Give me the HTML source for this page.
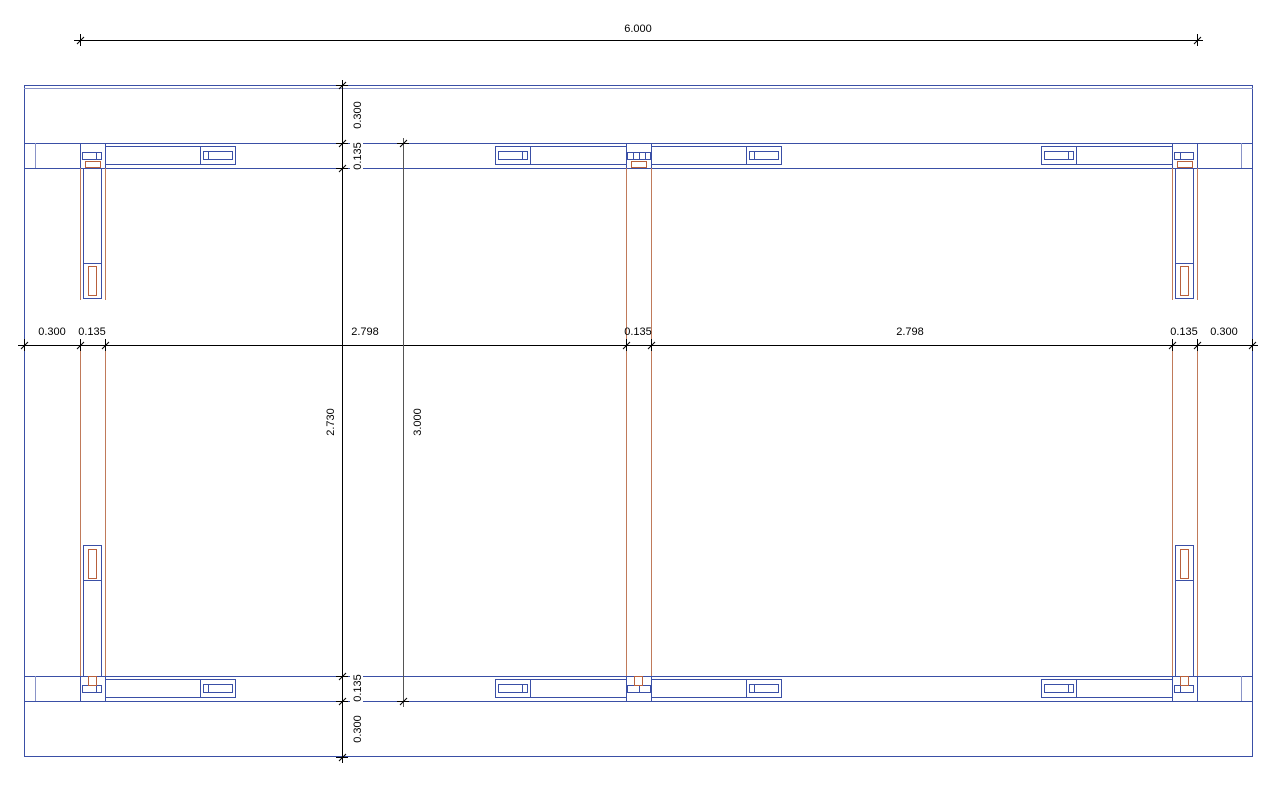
<!DOCTYPE html>
<html><head><meta charset="utf-8"><style>
html,body{margin:0;padding:0;background:#fff;}
svg{display:block;}
text{font-family:"Liberation Sans",sans-serif;font-size:11px;fill:#000;}
</style></head><body>
<svg width="1283" height="792" viewBox="0 0 1283 792" xmlns="http://www.w3.org/2000/svg">
<g fill="none" stroke="#3a4fa6" stroke-width="1">
<rect x="24.5" y="85.5" width="1228" height="671"/>
<line x1="24" y1="88.5" x2="1253" y2="88.5" stroke="#8a94c8"/>
<line x1="24" y1="143.5" x2="1253" y2="143.5"/>
<line x1="24" y1="168.5" x2="1253" y2="168.5"/>
<line x1="24" y1="676.5" x2="1253" y2="676.5"/>
<line x1="24" y1="701.5" x2="1253" y2="701.5"/>
<line x1="35.5" y1="143" x2="35.5" y2="168" stroke="#8a94c8"/>
<line x1="1241.5" y1="143" x2="1241.5" y2="168" stroke="#8a94c8"/>
<line x1="35.5" y1="676" x2="35.5" y2="701" stroke="#8a94c8"/>
<line x1="1241.5" y1="676" x2="1241.5" y2="701" stroke="#8a94c8"/>
<rect x="80.5" y="143.5" width="25" height="25"/>
<rect x="626.5" y="143.5" width="25" height="25"/>
<rect x="1172.5" y="143.5" width="25" height="25"/>
<rect x="80.5" y="676.5" width="25" height="25"/>
<rect x="626.5" y="676.5" width="25" height="25"/>
<rect x="1172.5" y="676.5" width="25" height="25"/>
<rect x="82.5" y="152.5" width="19" height="7"/><line x1="96.5" y1="152" x2="96.5" y2="160"/>
<rect x="627.5" y="152.5" width="23" height="7"/><line x1="633.5" y1="152" x2="633.5" y2="160"/><line x1="639.5" y1="152" x2="639.5" y2="160"/><line x1="645.5" y1="152" x2="645.5" y2="160"/>
<rect x="1174.5" y="152.5" width="19" height="7"/><line x1="1180.5" y1="152" x2="1180.5" y2="160"/>
<rect x="82.5" y="685.5" width="19" height="7"/><line x1="96.5" y1="685" x2="96.5" y2="693"/>
<rect x="627.5" y="685.5" width="23" height="7"/><line x1="639.5" y1="685" x2="639.5" y2="693"/>
<rect x="1174.5" y="685.5" width="19" height="7"/><line x1="1180.5" y1="685" x2="1180.5" y2="693"/>
<rect x="105.5" y="146.5" width="130" height="18"/><line x1="200.5" y1="146" x2="200.5" y2="165"/><rect x="203.5" y="151.5" width="29" height="8"/><line x1="208.5" y1="151" x2="208.5" y2="160"/>
<rect x="495.5" y="146.5" width="131" height="18"/><line x1="530.5" y1="146" x2="530.5" y2="165"/><rect x="498.5" y="151.5" width="29" height="8"/><line x1="522.5" y1="151" x2="522.5" y2="160"/>
<rect x="651.5" y="146.5" width="130" height="18"/><line x1="746.5" y1="146" x2="746.5" y2="165"/><rect x="749.5" y="151.5" width="29" height="8"/><line x1="754.5" y1="151" x2="754.5" y2="160"/>
<rect x="1041.5" y="146.5" width="131" height="18"/><line x1="1076.5" y1="146" x2="1076.5" y2="165"/><rect x="1044.5" y="151.5" width="29" height="8"/><line x1="1068.5" y1="151" x2="1068.5" y2="160"/>
<rect x="105.5" y="679.5" width="130" height="18"/><line x1="200.5" y1="679" x2="200.5" y2="698"/><rect x="203.5" y="684.5" width="29" height="8"/><line x1="208.5" y1="684" x2="208.5" y2="693"/>
<rect x="495.5" y="679.5" width="131" height="18"/><line x1="530.5" y1="679" x2="530.5" y2="698"/><rect x="498.5" y="684.5" width="29" height="8"/><line x1="522.5" y1="684" x2="522.5" y2="693"/>
<rect x="651.5" y="679.5" width="130" height="18"/><line x1="746.5" y1="679" x2="746.5" y2="698"/><rect x="749.5" y="684.5" width="29" height="8"/><line x1="754.5" y1="684" x2="754.5" y2="693"/>
<rect x="1041.5" y="679.5" width="131" height="18"/><line x1="1076.5" y1="679" x2="1076.5" y2="698"/><rect x="1044.5" y="684.5" width="29" height="8"/><line x1="1068.5" y1="684" x2="1068.5" y2="693"/>
<rect x="83.5" y="168.5" width="18" height="130"/><line x1="83" y1="263.5" x2="102" y2="263.5"/>
<rect x="1175.5" y="168.5" width="18" height="130"/><line x1="1175" y1="263.5" x2="1194" y2="263.5"/>
<rect x="83.5" y="545.5" width="18" height="131"/><line x1="83" y1="580.5" x2="102" y2="580.5"/>
<rect x="1175.5" y="545.5" width="18" height="131"/><line x1="1175" y1="580.5" x2="1194" y2="580.5"/>
</g>
<g fill="none" stroke="#b8603c" stroke-width="1">
<g stroke="#c07a5a">
<line x1="80.5" y1="168" x2="80.5" y2="300"/><line x1="105.5" y1="168" x2="105.5" y2="300"/>
<line x1="1172.5" y1="168" x2="1172.5" y2="300"/><line x1="1197.5" y1="168" x2="1197.5" y2="300"/>
<line x1="80.5" y1="345" x2="80.5" y2="676"/><line x1="105.5" y1="345" x2="105.5" y2="676"/>
<line x1="1172.5" y1="345" x2="1172.5" y2="676"/><line x1="1197.5" y1="345" x2="1197.5" y2="676"/>
<line x1="626.5" y1="168" x2="626.5" y2="676"/><line x1="651.5" y1="168" x2="651.5" y2="676"/>
</g>
<rect x="88.5" y="266.5" width="8" height="29"/><rect x="1180.5" y="266.5" width="8" height="29"/>
<rect x="88.5" y="549.5" width="8" height="29"/><rect x="1180.5" y="549.5" width="8" height="29"/>
<rect x="85.5" y="161.5" width="15" height="6"/><rect x="631.5" y="161.5" width="15" height="6"/><rect x="1177.5" y="161.5" width="15" height="6"/>
<rect x="88.5" y="676.5" width="8" height="9"/><rect x="634.5" y="676.5" width="8" height="9"/><rect x="1180.5" y="676.5" width="8" height="9"/>
</g>
<g stroke="#000" stroke-width="1" fill="none">
<line x1="74" y1="40.5" x2="1203" y2="40.5"/>
<path d="M80.5 34v12M77 44l7-7M1197.5 34v12M1194 44l7-7"/>
<line x1="18" y1="345.5" x2="1258" y2="345.5"/>
<path d="M24.5 339v12M21 349l7-7 M80.5 339v12M77 349l7-7 M105.5 339v12M102 349l7-7 M626.5 339v12M623 349l7-7 M651.5 339v12M648 349l7-7 M1172.5 339v12M1169 349l7-7 M1197.5 339v12M1194 349l7-7 M1252.5 339v12M1249 349l7-7"/>
<line x1="342.5" y1="80" x2="342.5" y2="763"/>
<path d="M336 85.5h12M339 89l7-7 M336 143.5h12M339 147l7-7 M336 168.5h12M339 172l7-7 M336 676.5h12M339 680l7-7 M336 701.5h12M339 705l7-7 M336 757.5h12M339 761l7-7"/>
<line x1="403.5" y1="138" x2="403.5" y2="707" stroke="#555"/>
<path d="M397 143.5h12M400 147l7-7 M397 701.5h12M400 705l7-7"/>
</g>
<text x="638" y="32" text-anchor="middle">6.000</text>
<text x="52" y="335" text-anchor="middle">0.300</text>
<text x="92" y="335" text-anchor="middle">0.135</text>
<text x="365" y="335" text-anchor="middle">2.798</text>
<text x="638" y="335" text-anchor="middle">0.135</text>
<text x="910" y="335" text-anchor="middle">2.798</text>
<text x="1184" y="335" text-anchor="middle">0.135</text>
<text x="1224" y="335" text-anchor="middle">0.300</text>
<rect x="350" y="140" width="13" height="32" fill="#fff"/>
<rect x="350" y="673" width="13" height="32" fill="#fff"/>
<text transform="translate(361,115) rotate(-90)" text-anchor="middle">0.300</text>
<text transform="translate(361,156) rotate(-90)" text-anchor="middle">0.135</text>
<text transform="translate(334,422) rotate(-90)" text-anchor="middle">2.730</text>
<text transform="translate(421,422) rotate(-90)" text-anchor="middle">3.000</text>
<text transform="translate(361,688) rotate(-90)" text-anchor="middle">0.135</text>
<text transform="translate(361,729) rotate(-90)" text-anchor="middle">0.300</text>
</svg>
</body></html>
